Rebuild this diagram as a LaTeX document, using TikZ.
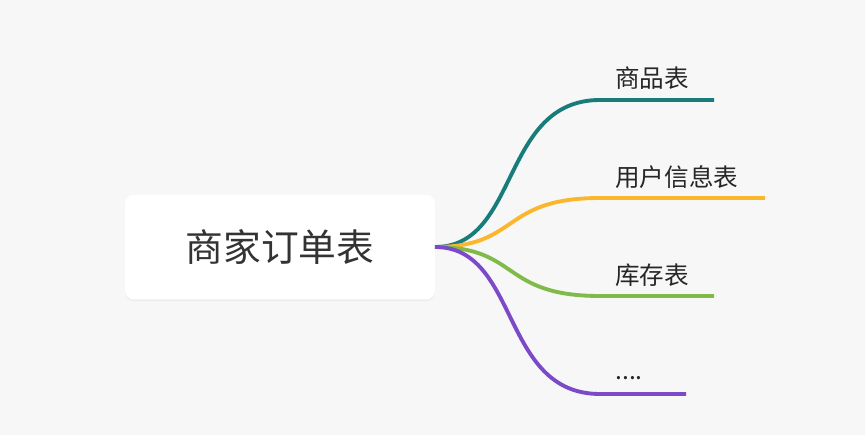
\documentclass[tikz,border=0pt]{standalone}
\usepackage{fontspec}
\setmainfont{Noto Sans CJK SC}
\usetikzlibrary{shadows}
\definecolor{bgcol}{RGB}{247,247,247}
\definecolor{tealcol}{RGB}{23,124,122}
\definecolor{yellowcol}{RGB}{250,183,45}
\definecolor{greencol}{RGB}{128,186,72}
\definecolor{purplecol}{RGB}{124,74,200}
\begin{document}
\begin{tikzpicture}[x=0.02cm, y=-0.02cm,
                    root node/.style={rectangle,rounded corners=5pt,fill=white,minimum width=6.2cm,minimum height=2.1cm,font=\fontsize{21.5}{24}\selectfont,text=black!80,drop shadow={opacity=0.08,shadow xshift=0pt,shadow yshift=-1pt}},
                    leaf node/.style={anchor=west,font=\fontsize{14}{16}\selectfont,text=black!85,inner sep=0pt},
                    branch/.style={line width=2.2pt}]

  \fill[bgcol] (0,0) rectangle (865,435);

  \node[root node] (root) at (280,247) {商家订单表};
  \coordinate (s) at (435,247);

  \node[leaf node] (a) at (615,78) {商品表};
  \node[leaf node] (b) at (615,177) {用户信息表};
  \node[leaf node] (c) at (615,275) {库存表};
  \node[leaf node] (d) at (615,378) {....};

  \coordinate (ae) at (714,100);
  \coordinate (be) at (765,198);
  \coordinate (ce) at (714,296);
  \coordinate (de) at (686,394);

  % branches
  \draw[branch,tealcol] (s) .. controls (520,247) and (500,100) .. (600,100) -- (ae);
  \draw[branch,yellowcol] (s) .. controls (520,247) and (500,198) .. (600,198) -- (be);
  \draw[branch,greencol] (s) .. controls (520,247) and (500,296) .. (600,296) -- (ce);
  \draw[branch,purplecol] (s) .. controls (520,247) and (500,394) .. (600,394) -- (de);

\end{tikzpicture}
\end{document}
